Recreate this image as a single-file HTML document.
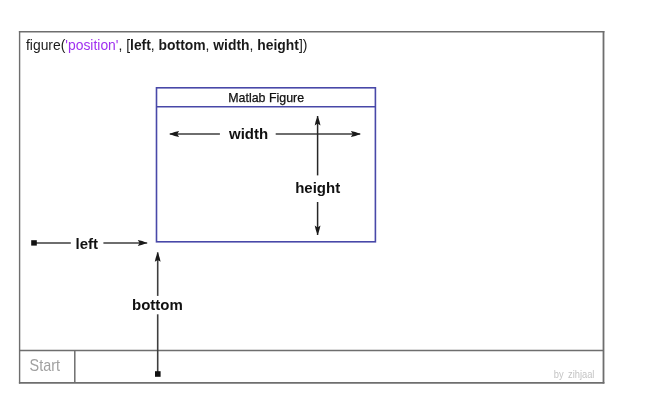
<!DOCTYPE html>
<html><head><meta charset="utf-8">
<style>
html,body{margin:0;padding:0;background:#fff;width:645px;height:411px;overflow:hidden}
svg{display:block;will-change:transform}
text{font-family:"Liberation Sans",sans-serif}
</style></head>
<body>
<svg width="645" height="411" viewBox="0 0 645 411">
<defs>
<marker id="ah" viewBox="0 0 10 7" refX="10" refY="3.5" markerWidth="10" markerHeight="7" markerUnits="userSpaceOnUse" orient="auto">
<path d="M10,3.5 Q5,1.4 0.6,0.6 L2.4,3.5 L0.6,6.4 Q5,5.6 10,3.5 Z" fill="#1a1a1a"/>
</marker>
</defs>
<!-- outer frame -->
<g stroke="#6e6e6e" fill="none">
<line x1="19.6" y1="31" x2="19.6" y2="383.6" stroke-width="1.4"/>
<line x1="18.9" y1="31.7" x2="604.4" y2="31.7" stroke-width="1.4"/>
<line x1="603.5" y1="31" x2="603.5" y2="383.6" stroke-width="1.8"/>
<line x1="18.9" y1="382.9" x2="604.4" y2="382.9" stroke-width="1.8"/>
<line x1="19.6" y1="350.6" x2="603.9" y2="350.6" stroke-width="1.5"/>
<line x1="74.8" y1="350.3" x2="74.8" y2="382.8" stroke-width="1.5"/>
</g>
<text transform="translate(29.6,371.3) scale(0.9,1)" x="0" y="0" font-size="16" fill="#a0a0a0">Start</text>
<text transform="translate(553.8,377.7) scale(0.88,1)" x="0" y="0" font-size="10.6" fill="#c4c4c4">by <tspan dx="2">zihjaal</tspan></text>

<!-- title -->
<text x="26" y="49.6" font-size="13.88" fill="#1a1a1a">figure(<tspan fill="#a030f0">'position'</tspan>, [<tspan font-weight="bold">left</tspan>, <tspan font-weight="bold">bottom</tspan>, <tspan font-weight="bold">width</tspan>, <tspan font-weight="bold">height</tspan>])</text>

<!-- figure box -->
<g stroke="#4848a8" stroke-width="1.6" fill="none">
<rect x="156.5" y="87.8" width="218.9" height="154"/>
<line x1="156.5" y1="106.8" x2="375.4" y2="106.8"/>
</g>
<text x="228.3" y="101.9" font-size="12.4" fill="#111" stroke="#111" stroke-width="0.25">Matlab Figure</text>

<!-- arrows -->
<g stroke="#3e3e3e" stroke-width="1.6" fill="none">
<line x1="219.9" y1="134" x2="169.7" y2="134" marker-end="url(#ah)"/>
<line x1="275.7" y1="134" x2="360.3" y2="134" marker-end="url(#ah)"/>
<line x1="34" y1="243" x2="70.8" y2="243"/>
<line x1="103.4" y1="243" x2="147.2" y2="243" marker-end="url(#ah)"/>
<line x1="157.7" y1="295.9" x2="157.7" y2="252.3" marker-end="url(#ah)"/>
<line x1="157.7" y1="314.3" x2="157.7" y2="374"/>
</g>
<g stroke="#262626" stroke-width="1.5" fill="none">
<line x1="317.6" y1="175.4" x2="317.6" y2="116" marker-end="url(#ah)"/>
<line x1="317.6" y1="202" x2="317.6" y2="235" marker-end="url(#ah)"/>
</g>
<rect x="31.2" y="240.2" width="5.6" height="5.4" fill="#111"/>
<rect x="155" y="371.2" width="5.6" height="5.6" fill="#111"/>

<g font-weight="bold" font-size="15" fill="#111">
<text x="229" y="138.6" font-size="15">width</text>
<text x="295.2" y="193.1">height</text>
<text x="75.5" y="248.6">left</text>
<text x="132" y="309.9">bottom</text>
</g>
</svg>
</body></html>
